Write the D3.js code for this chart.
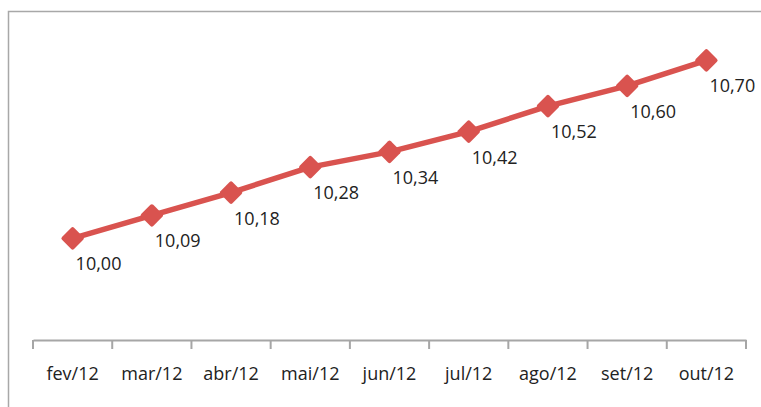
<!DOCTYPE html>
<html>
<head>
<meta charset="utf-8">
<script src="https://cdn.jsdelivr.net/npm/d3@7"></script>
<style>
  body { margin: 0; background: #fff; }
  text { font-family: "Open Sans", sans-serif; }
</style>
</head>
<body>
<svg id="chart" width="761" height="407"></svg>
<script>
let categories = ['fev/12', 'mar/12', 'abr/12', 'mai/12', 'jun/12', 'jul/12', 'ago/12', 'set/12', 'out/12'];
let values = [10.00, 10.09, 10.18, 10.28, 10.34, 10.42, 10.52, 10.60, 10.70];
let yDomain = [9.6, 10.8];

let svg = d3.select('#chart');
let lineColor = '#d9534f';
let axisColor = '#a6a6a6';

// frame (only left and top edges are visible, rest is cropped)
svg.append('rect')
    .attr('x', 8.5).attr('y', 11.5)
    .attr('width', 800).attr('height', 450)
    .attr('fill', 'none')
    .attr('stroke', '#a8a8a8')
    .attr('stroke-width', 1.5);

let xScale = d3.scaleBand().domain(categories).range([33, 746]).padding(0);
let yScale = d3.scaleLinear().domain(yDomain).range([340, 35]);

// x axis
let xAxis = d3.axisBottom(xScale).tickSizeInner(0).tickSizeOuter(0).tickPadding(27);
let xAxisG = svg.append('g')
    .attr('transform', 'translate(0, 340)')
    .call(xAxis);
xAxisG.select('.domain').attr('stroke', axisColor).attr('stroke-width', 2);
xAxisG.selectAll('text')
    .attr('fill', '#222')
    .style('font-size', '18px');

// tick marks on band boundaries
let boundaries = categories.map(c => xScale(c)).concat([xScale.range()[1]]);
xAxisG.selectAll('.bound')
    .data(boundaries)
    .enter()
    .append('line')
    .attr('class', 'bound')
    .attr('x1', d => d).attr('x2', d => d)
    .attr('y1', 0).attr('y2', 9)
    .attr('stroke', axisColor)
    .attr('stroke-width', 2);

let cx = (d, i) => xScale(categories[i]) + xScale.bandwidth() / 2;

// line
let line = d3.line()
    .x((d, i) => cx(d, i))
    .y(d => yScale(d));
svg.append('path')
    .datum(values)
    .attr('d', line)
    .attr('fill', 'none')
    .attr('stroke', lineColor)
    .attr('stroke-width', 5.5)
    .attr('stroke-linejoin', 'round');

// diamond markers
svg.selectAll('.marker')
    .data(values)
    .enter()
    .append('rect')
    .attr('class', 'marker')
    .attr('x', -8.5).attr('y', -8.5)
    .attr('width', 17).attr('height', 17)
    .attr('rx', 2).attr('ry', 2)
    .attr('fill', lineColor)
    .attr('transform', (d, i) => `translate(${cx(d, i)}, ${yScale(d)}) rotate(45)`);

// data labels
svg.selectAll('.label')
    .data(values)
    .enter()
    .append('text')
    .attr('class', 'label')
    .attr('x', (d, i) => cx(d, i) + 3)
    .attr('y', d => yScale(d) + 32)
    .attr('fill', '#222')
    .style('font-size', '18px')
    .text(d => d3.format('.2f')(d).replace('.', ','));
</script>
</body>
</html>
